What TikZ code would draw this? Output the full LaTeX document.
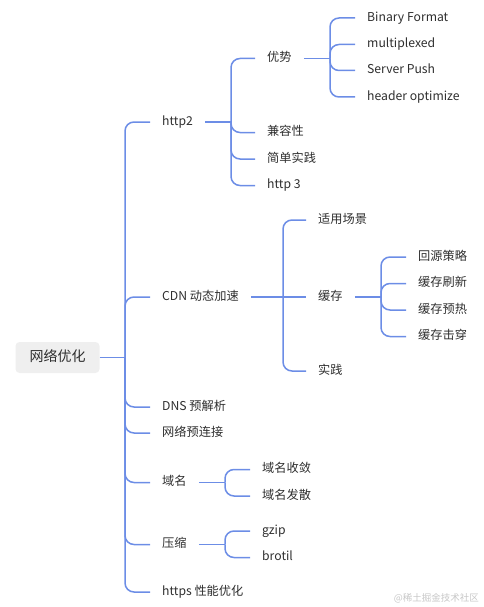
\documentclass[tikz,border=0pt]{standalone}
\usepackage{fontspec}
\setmainfont{Noto Sans CJK SC}
\definecolor{linkblue}{HTML}{6C8DE6}
\definecolor{rootgray}{HTML}{EFEFEF}
\definecolor{txt}{HTML}{2E2E2E}
\begin{document}
\begin{tikzpicture}[x=1pt,y=-1pt,
  edge/.style={draw=linkblue, line width=1.5pt, rounded corners=9pt},
  leaf/.style={anchor=west, inner xsep=12pt, inner ysep=0pt, text=txt,
    font=\fontsize{12.2}{14}\selectfont, text height=9pt, text depth=2.5pt},
  rootbox/.style={fill=rootgray, rounded corners=4pt, inner xsep=14pt, inner ysep=0pt,
    minimum height=31pt, text=txt, font=\fontsize{14}{16}\selectfont,
    text height=10.5pt, text depth=3pt}]
\useasboundingbox (0,0) rectangle (483,607);

% root
\node[rootbox] (root) at (57.5,357.5) {网络优化};
\coordinate (j0) at (125,357.5);

% level 1
\node[leaf] (http2) at (150,122) {http2};
\node[leaf] (cdn) at (150,297) {CDN 动态加速};
\node[leaf] (dns) at (150,407) {DNS 预解析};
\node[leaf] (pre) at (150,433) {网络预连接};
\node[leaf] (dom) at (150,482.5) {域名};
\node[leaf] (zip) at (150,544.5) {压缩};
\node[leaf] (https) at (150,592) {https 性能优化};

% http2 children
\coordinate (jh) at (231,122);
\node[leaf] (adv) at (255,58.5) {优势};
\node[leaf] (compat) at (255,132.5) {兼容性};
\node[leaf] (simple) at (255,159) {简单实践};
\node[leaf] (h3) at (255,185.5) {http 3};

% advantages
\coordinate (ja) at (330,58.5);
\node[leaf] (bin) at (355,18) {Binary Format};
\node[leaf] (mux) at (355,44.5) {multiplexed};
\node[leaf] (push) at (355,70.5) {Server Push};
\node[leaf] (hdr) at (355,97) {header optimize};

% CDN children
\coordinate (jc) at (283,297);
\node[leaf] (scene) at (306,220) {适用场景};
\node[leaf] (cache) at (306,297) {缓存};
\node[leaf] (prac) at (306,371) {实践};

% cache children
\coordinate (jk) at (381,297);
\node[leaf] (src) at (406,257) {回源策略};
\node[leaf] (refresh) at (406,283.5) {缓存刷新};
\node[leaf] (warm) at (406,310) {缓存预热};
\node[leaf] (pierce) at (406,336.5) {缓存击穿};

% domain children
\coordinate (jd) at (225,482.5);
\node[leaf] (conv) at (250,469.5) {域名收敛};
\node[leaf] (div) at (250,496) {域名发散};

% compress children
\coordinate (jz) at (225,544.5);
\node[leaf] (gzip) at (250,531) {gzip};
\node[leaf] (brotil) at (250,557.5) {brotil};

% connectors
\draw[edge] (root.east) -- (j0);
\foreach \n in {http2,cdn,dns,pre,dom,zip,https} \draw[edge] (j0) |- (\n.west);

\draw[edge] (http2.east) -- (jh);
\foreach \n in {adv,compat,simple,h3} \draw[edge] (jh) |- (\n.west);

\draw[edge] (adv.east) -- (ja);
\foreach \n in {bin,mux,push,hdr} \draw[edge] (ja) |- (\n.west);

\draw[edge] (cdn.east) -- (jc);
\foreach \n in {scene,prac} \draw[edge] (jc) |- (\n.west);
\draw[edge] (jc) -- (cache.west);

\draw[edge] (cache.east) -- (jk);
\foreach \n in {src,refresh,warm,pierce} \draw[edge] (jk) |- (\n.west);

\draw[edge] (dom.east) -- (jd);
\foreach \n in {conv,div} \draw[edge] (jd) |- (\n.west);

\draw[edge] (zip.east) -- (jz);
\foreach \n in {gzip,brotil} \draw[edge] (jz) |- (\n.west);

% watermark
\node[anchor=east, inner sep=0pt, text=black!22, font=\fontsize{9.5}{10}\selectfont] (wm) at (479,598.5) {@稀土掘金技术社区};
\end{tikzpicture}
\end{document}
